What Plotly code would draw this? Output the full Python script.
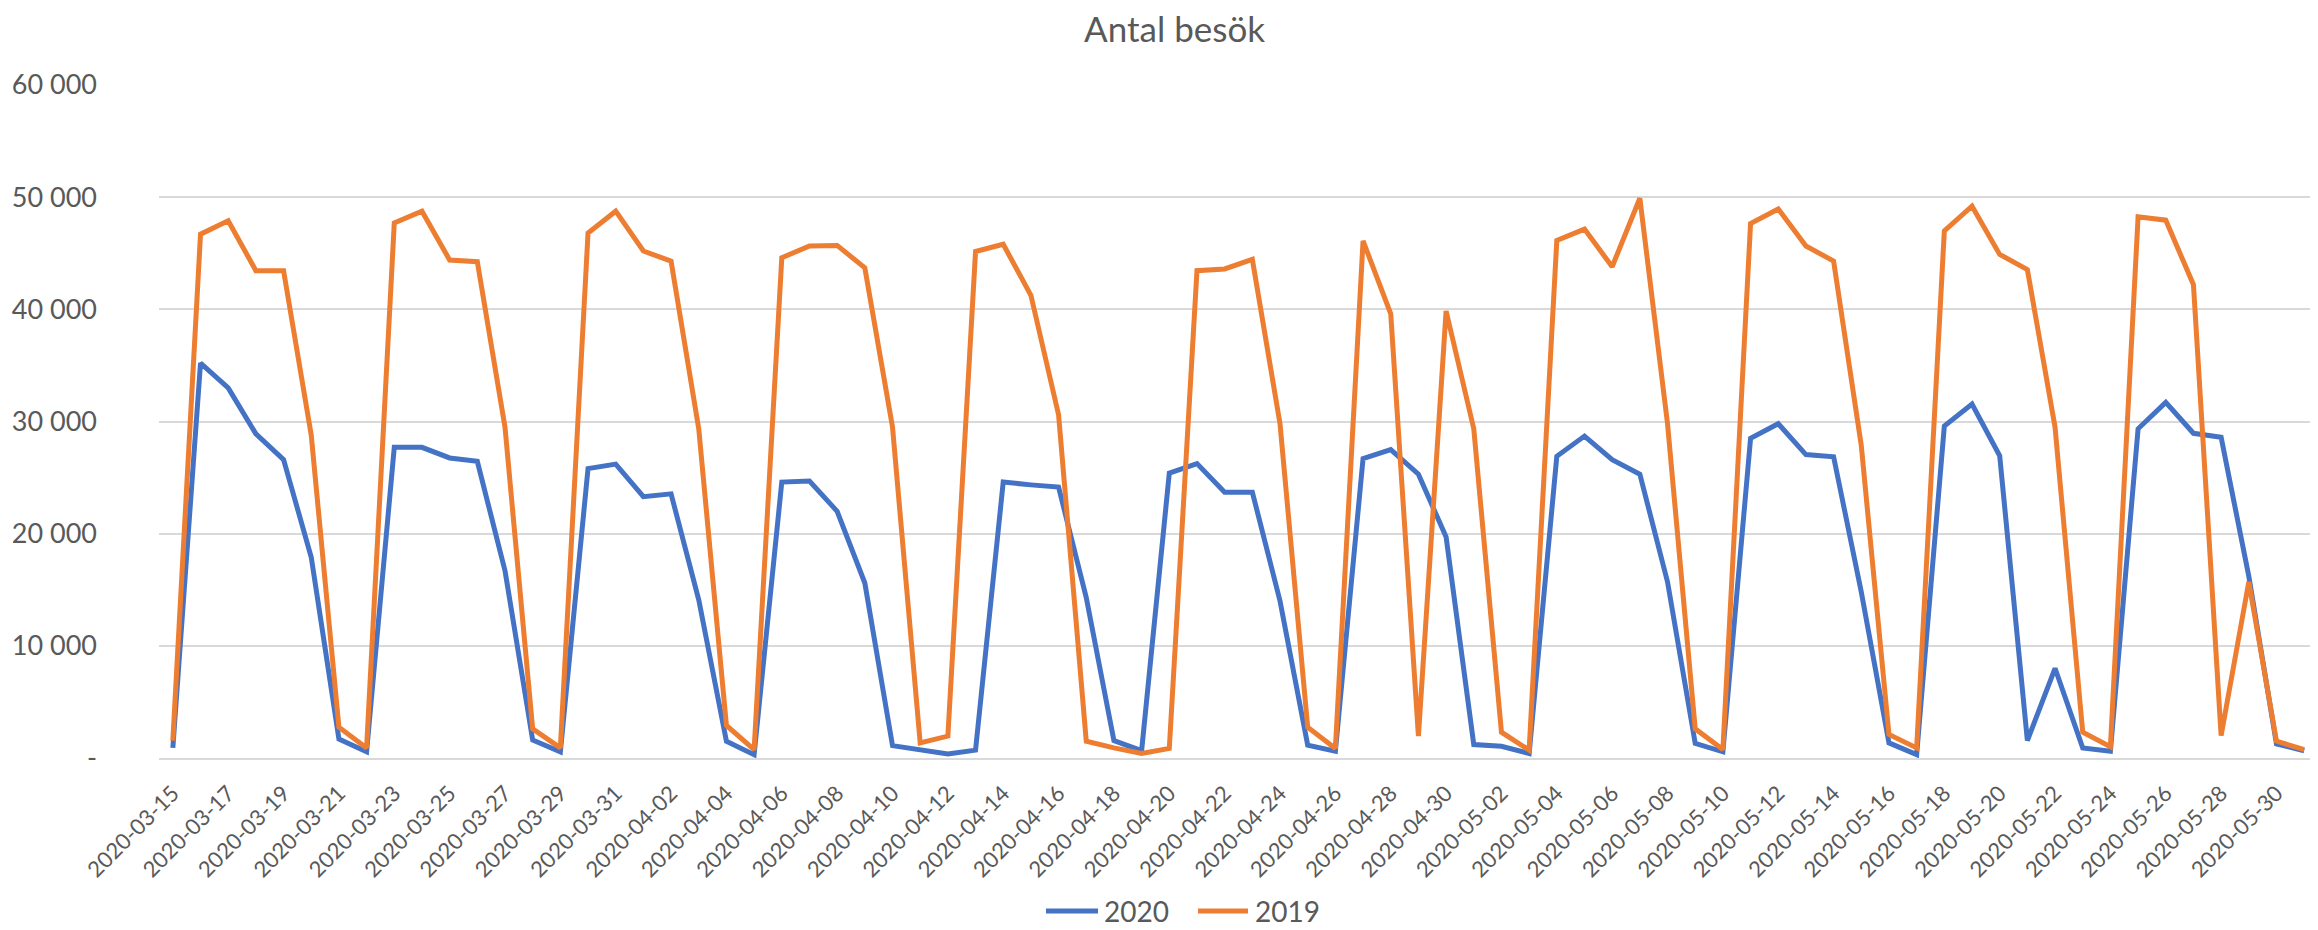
import plotly.graph_objects as go
import pandas as pd

dates = [d.strftime("%Y-%m-%d") for d in pd.date_range("2020-03-15", "2020-05-31", freq="D")]

visits_2020 = [
    900, 35200, 33000, 28900, 26600, 17900, 1700,
    550, 27700, 27700, 26750, 26450, 16700, 1600,
    550, 25800, 26200, 23300, 23550, 14100, 1500,
    300, 24600, 24700, 22000, 15600, 1100, 750,
    350, 700, 24600, 24350, 24150, 14300, 1550,
    650, 25400, 26250, 23700, 23700, 14000, 1150,
    600, 26700, 27500, 25300, 19700, 1200, 1050,
    400, 26900, 28700, 26600, 25300, 15700, 1300,
    550, 28500, 29800, 27050, 26850, 14800, 1350,
    300, 29600, 31550, 26950, 1550, 8000, 900,
    600, 29350, 31700, 28950, 28600, 16200, 1250,
    650,
]

visits_2019 = [
    1550, 46700, 47900, 43450, 43450, 28800, 2750,
    900, 47700, 48750, 44400, 44250, 29500, 2600,
    900, 46800, 48750, 45200, 44300, 29350, 2900,
    750, 44600, 45650, 45700, 43700, 29500, 1350,
    1950, 45150, 45800, 41250, 30600, 1500, 900,
    400, 850, 43450, 43600, 44450, 29800, 2750,
    850, 46100, 39600, 1950, 39850, 29350, 2300,
    700, 46150, 47150, 43800, 49900, 29800, 2600,
    750, 47650, 48950, 45650, 44300, 27850, 2100,
    900, 47000, 49200, 44900, 43550, 29500, 2300,
    1000, 48250, 47950, 42200, 2000, 15700, 1500,
    750,
]

series_names = ["2020", "2019"]
series_colors = ["#4472C4", "#ED7D31"]

y_tickvals = [0, 10000, 20000, 30000, 40000, 50000, 60000]
y_ticktext = ["-", "10 000", "20 000", "30 000", "40 000", "50 000", "60 000"]
x_tickvals = dates[::2]

FONT = "Lato"
TXT = "#595959"

# the page body has an 8px margin, so the figure is sized/offset to compensate
W, H = 2310, 922
ML, MR, MT, MB = 151, 0, 77, 172
PW, PH = W - ML - MR, H - MT - MB


def px_to_paper_x(px):
    return (px - ML) / PW


def px_to_paper_y(py):
    return (H - MB - py) / PH


fig = go.Figure()
for vals, name, col in zip([visits_2020, visits_2019], series_names, series_colors):
    fig.add_trace(go.Scatter(x=dates, y=vals, mode="lines", name=name,
                             line=dict(color=col, width=5), showlegend=False))

# legend drawn as line keys + text, laid out like the original
legend_y = 903
legend_items = [(1038, 1090, 1094), (1190, 1240, 1245)]  # key start, key end, text left (px)
for (k0, k1, tx), name, col in zip(legend_items, series_names, series_colors):
    fig.add_shape(type="line", xref="paper", yref="paper",
                  x0=px_to_paper_x(k0), x1=px_to_paper_x(k1),
                  y0=px_to_paper_y(legend_y), y1=px_to_paper_y(legend_y),
                  line=dict(color=col, width=5))
    fig.add_annotation(text=name, xref="paper", yref="paper",
                       x=px_to_paper_x(tx), y=px_to_paper_y(legend_y),
                       xanchor="left", yanchor="middle", showarrow=False,
                       font=dict(family=FONT, size=28, color=TXT))

fig.update_layout(
    width=W, height=H,
    paper_bgcolor="white", plot_bgcolor="white",
    margin=dict(l=ML, r=MR, t=MT, b=MB),
    title=dict(text="Antal besök", x=0.505, xref="container", xanchor="center",
               y=1 - 22 / H, yref="container", yanchor="middle",
               font=dict(family=FONT, size=35, color=TXT)),
    font=dict(family=FONT, color=TXT),
    showlegend=False,
    xaxis=dict(type="category", categoryorder="array", categoryarray=dates,
               range=[-0.5, len(dates) - 0.5],
               tickmode="array", tickvals=x_tickvals, ticktext=x_tickvals,
               tickangle=-45, tickfont=dict(family=FONT, size=22, color=TXT),
               ticklabelstandoff=12,
               showgrid=False, showline=True, linecolor="#D9D9D9", linewidth=1.5,
               ticks="", zeroline=False),
    yaxis=dict(range=[0, 60000], tickmode="array", tickvals=y_tickvals, ticktext=y_ticktext,
               tickfont=dict(family=FONT, size=27, color=TXT),
               showgrid=True, gridcolor="#D9D9D9", gridwidth=1.5,
               zeroline=False, showline=False, ticks="", ticklabelstandoff=61),
)

fig.write_html("out.html")
